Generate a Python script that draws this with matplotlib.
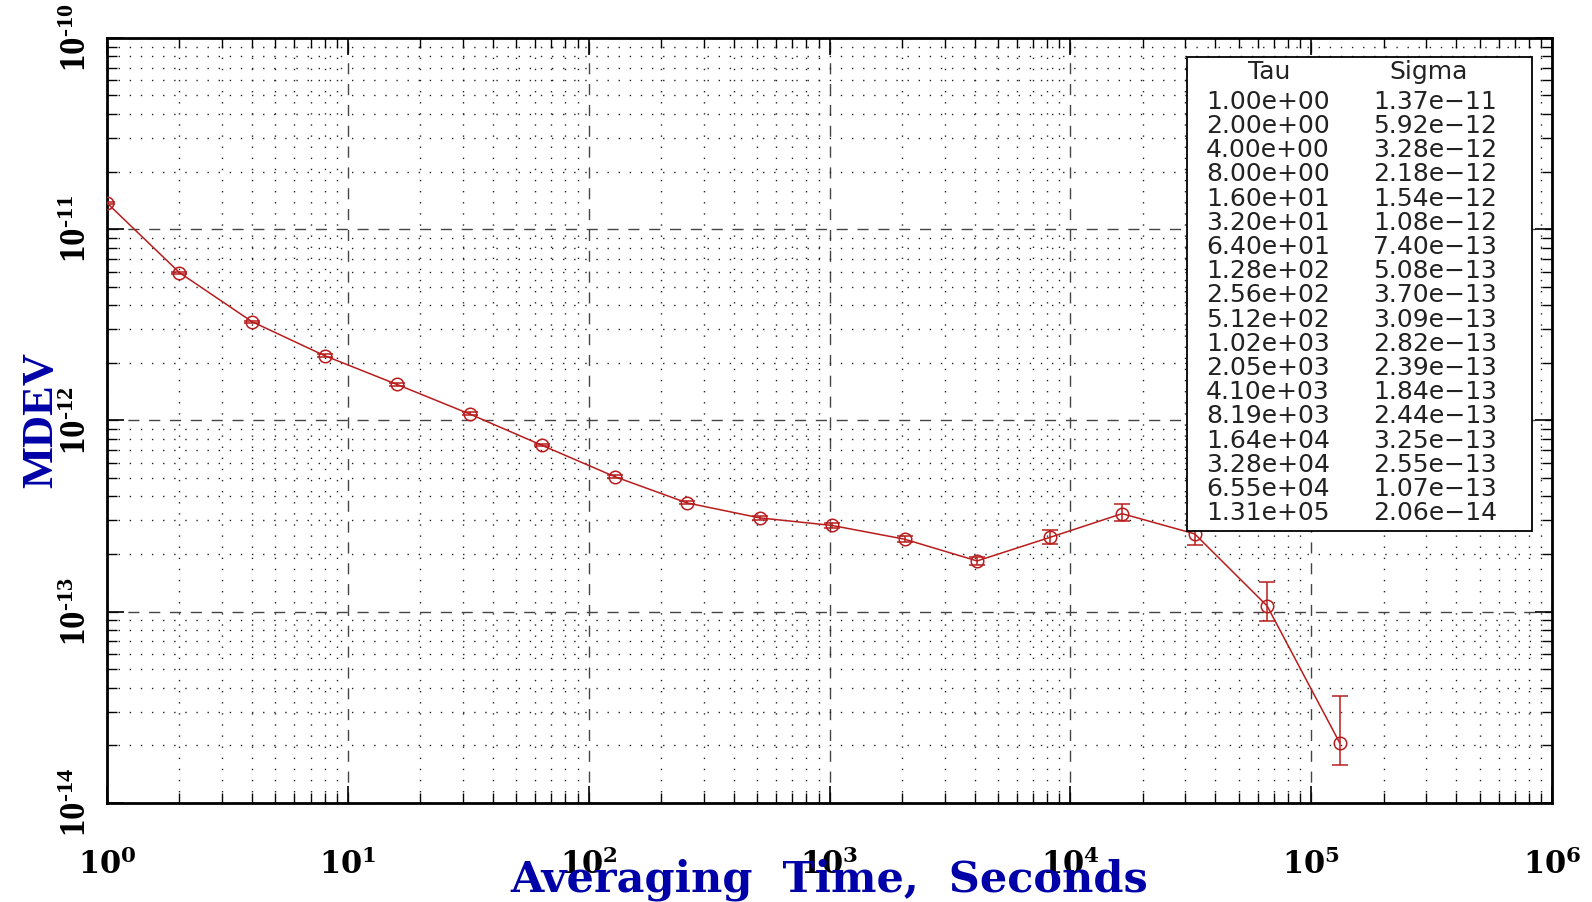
import matplotlib.pyplot as plt
import numpy as np
from matplotlib.ticker import LogLocator, FuncFormatter, NullFormatter

# data
tau = [1, 2, 4, 8, 16, 32, 64, 128, 256, 512, 1024, 2048, 4096, 8192,
       16384, 32768, 65536, 131072]
sigma = [1.37e-11, 5.92e-12, 3.28e-12, 2.18e-12, 1.54e-12, 1.08e-12,
         7.40e-13, 5.08e-13, 3.70e-13, 3.09e-13, 2.82e-13, 2.39e-13,
         1.84e-13, 2.44e-13, 3.25e-13, 2.55e-13, 1.07e-13, 2.06e-14]
err_lo = [0.02e-11, 0.08e-12, 0.04e-12, 0.03e-12, 0.02e-12, 0.02e-12,
          0.1e-13, 0.08e-13, 0.07e-13, 0.07e-13, 0.08e-13, 0.08e-13,
          0.08e-13, 0.18e-13, 0.29e-13, 0.32e-13, 0.18e-13, 0.48e-14]
err_hi = [0.02e-11, 0.08e-12, 0.04e-12, 0.03e-12, 0.02e-12, 0.02e-12,
          0.1e-13, 0.08e-13, 0.07e-13, 0.07e-13, 0.08e-13, 0.08e-13,
          0.08e-13, 0.23e-13, 0.41e-13, 0.35e-13, 0.36e-13, 1.54e-14]

red = '#b81c1c'
blue = '#0000a8'

fig = plt.figure(figsize=(15.92, 9.02), dpi=100)
ax = fig.add_axes([0.0672, 0.110, 0.9078, 0.848])

ax.errorbar(tau, sigma, yerr=[err_lo, err_hi], color=red, lw=1.1,
            marker='o', ms=9, mfc='none', mec=red, mew=1.1,
            capsize=6, elinewidth=1.1, zorder=3)

ax.set_xscale('log')
ax.set_yscale('log')
ax.set_xlim(1, 1e6)
ax.set_ylim(1e-14, 1e-10)


def pow10(v, p):
    e = int(round(np.log10(v)))
    if e < 0:
        return r'$\mathdefault{10^{' + '\u2010' + str(-e) + '}}$'
    return r'$\mathdefault{10^{%d}}$' % e


ax.xaxis.set_major_locator(LogLocator(base=10, numticks=10))
ax.yaxis.set_major_locator(LogLocator(base=10, numticks=10))
ax.xaxis.set_minor_locator(LogLocator(base=10, subs=np.arange(2, 10), numticks=20))
ax.yaxis.set_minor_locator(LogLocator(base=10, subs=np.arange(2, 10), numticks=20))
ax.xaxis.set_major_formatter(FuncFormatter(pow10))
ax.yaxis.set_major_formatter(FuncFormatter(pow10))
ax.xaxis.set_minor_formatter(NullFormatter())
ax.yaxis.set_minor_formatter(NullFormatter())

ax.grid(True, which='major', ls=(0, (8, 7)), color='#444444', lw=1.0)
ax.grid(True, which='minor', ls=(0, (1, 7)), color='#222222', lw=1.0)

ax.tick_params(which='both', direction='in', top=True, right=True)
ax.tick_params(which='major', length=12, width=1.2)
ax.tick_params(which='minor', length=7, width=1.0)
ax.tick_params(axis='x', pad=33)
ax.tick_params(axis='y', pad=9)
for lab in ax.get_xticklabels():
    lab.set_fontfamily('DejaVu Serif')
    lab.set_fontweight('bold')
    lab.set_fontsize(22)
for lab in ax.get_yticklabels():
    lab.set_fontfamily('Liberation Serif')
    lab.set_fontweight('bold')
    lab.set_fontsize(25)
    lab.set_rotation(90)
    lab.set_va('center')
for s in ax.spines.values():
    s.set_linewidth(2)

ax.set_xlabel('Averaging  Time,  Seconds', fontsize=31, color=blue,
              family='DejaVu Serif', weight='bold')
ax.xaxis.set_label_coords(0.5, -0.073)
ax.set_ylabel('MDEV', fontsize=32, color=blue, family='Liberation Serif',
              weight='bold', labelpad=0)

# value table in the upper right
box = plt.Rectangle((0.7474, 0.3556), 0.2388, 0.6196, transform=ax.transAxes,
                    facecolor='white', edgecolor='black', lw=1.3, zorder=5)
ax.add_patch(box)
tfont = dict(fontsize=18, family='DejaVu Sans', color='#222222', zorder=6,
             transform=ax.transAxes, va='center')
ax.text(0.8042, 0.9556, 'Tau', ha='center', **tfont)
ax.text(0.9142, 0.9556, 'Sigma', ha='center', **tfont)
for i, (t, s) in enumerate(zip(tau, sigma)):
    y = 1 - (64 + 24.2 * i) / 765
    ax.text(0.7606, y, ('%.2e' % t), ha='left', **tfont)
    ax.text(0.8761, y, ('%.2e' % s).replace('-', '\u2212'), ha='left', **tfont)

fig.savefig('out.png', dpi=100)
